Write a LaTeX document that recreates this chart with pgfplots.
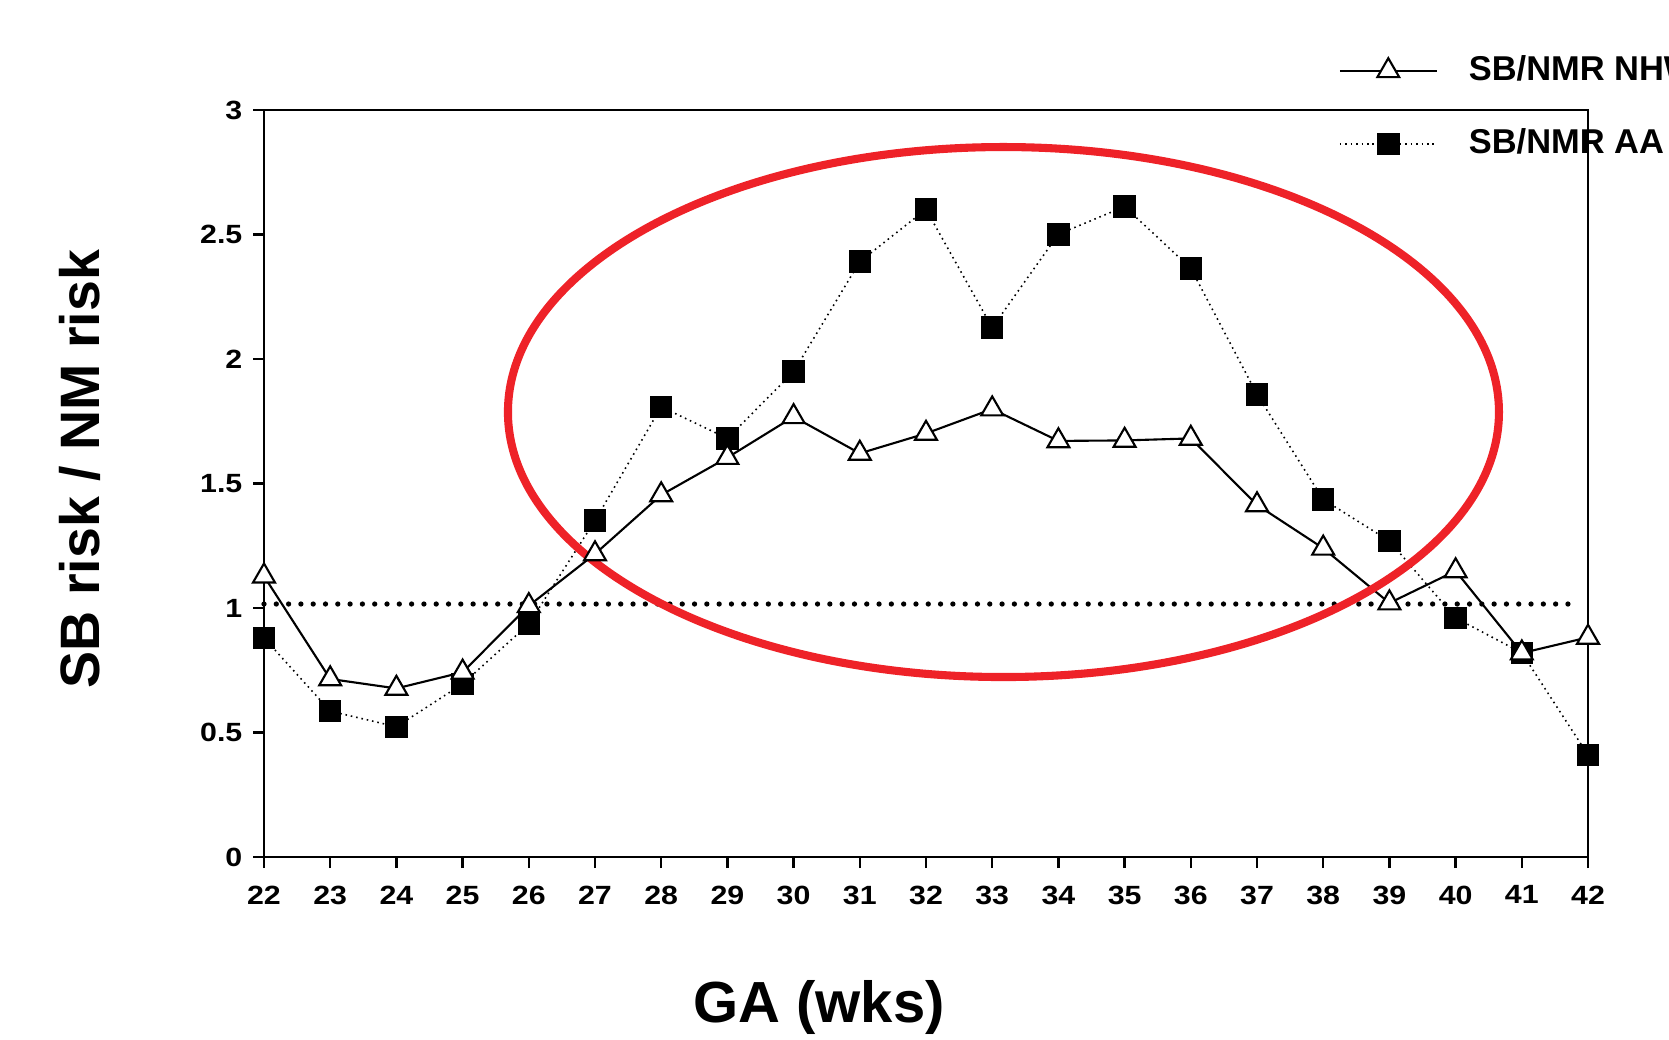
\documentclass[border=0pt]{standalone}
\usepackage{fontspec}
\setmainfont{Liberation Sans}
\newfontfamily\tickfont[FakeStretch=1.15]{Liberation Sans}
\usepackage{pgfplots}
\pgfplotsset{compat=1.18}
\usetikzlibrary{calc}
\definecolor{circred}{RGB}{238,34,40}

\begin{document}
\begin{tikzpicture}
\useasboundingbox (0,0) rectangle (16.69cm,10.39cm);
\clip (0,0) rectangle (16.69cm,10.39cm);
\begin{axis}[
  at={(2.64cm,1.82cm)}, anchor=south west,
  scale only axis, width=13.24cm, height=7.47cm,
  xmin=22, xmax=42, ymin=0, ymax=3,
  xtick={22,...,42}, ytick={0,0.5,1,1.5,2,2.5,3},
  yticklabels={0,0.5,1,1.5,2,2.5,3},
  /pgf/number format/assume math mode=true,
  tick pos=left, tick align=outside, major tick length=0.11cm,
  axis line style={line width=0.7pt},
  tick style={line width=0.7pt,black},
  ticklabel style={font=\tickfont\bfseries\fontsize{7.5}{8}\selectfont},
  xticklabel style={inner sep=0pt,anchor=north,yshift=-0.17cm},
  yticklabel style={inner sep=0pt,anchor=east,xshift=-0.1cm},
  clip=false,
  xlabel={GA (wks)}, ylabel={SB risk / NM risk},
  label style={font=\bfseries\fontsize{16.5}{18}\selectfont},
  ylabel style={font=\bfseries\fontsize{15.8}{18}\selectfont},
  xlabel style={at={($(axis description cs:0.5,0)+(-1.07cm,-1.65cm)$)},anchor=base},
  ylabel style={at={($(axis description cs:0,0.5)+(-1.64cm,0.145cm)$)},anchor=base},
  legend cell align=left,
  reverse legend,
  legend style={at={(axis description cs:0.8112,1.0736)},anchor=north west,
    draw=none,fill=none,inner sep=0pt,column sep=0.31cm,row sep=0.43cm,
    nodes={inner sep=0pt},
    font=\bfseries\fontsize{9.8}{10}\selectfont},
  legend image code/.code={\draw[mark repeat=2,mark phase=2,#1]
    plot coordinates {(0cm,0cm) (0.485cm,0cm) (0.97cm,0cm)};},
]

% reference line at 1
\addplot[black,line width=1.5pt,line cap=round,dash pattern=on 0pt off 3.5pt,forget plot]
  coordinates {(22,1.016)(41.85,1.016)};

% SB/NMR AA
\addplot[black,line width=0.45pt,dash pattern=on 0.45pt off 1.1pt,
  mark=square*,mark size=2.98pt,mark options={solid,fill=black}]
  coordinates {
  (22,0.880)(23,0.586)(24,0.523)(25,0.695)(26,0.936)(27,1.351)(28,1.808)
  (29,1.681)(30,1.949)(31,2.391)(32,2.601)(33,2.126)(34,2.501)(35,2.612)
  (36,2.364)(37,1.858)(38,1.436)(39,1.269)(40,0.960)(41,0.820)(42,0.410)};

% SB/NMR NHW
\addplot[black,line width=0.6pt,
  mark=triangle*,mark size=3.6pt,mark options={solid,fill=white,line width=0.6pt}]
  coordinates {
  (22,1.128)(23,0.715)(24,0.677)(25,0.742)(26,1.009)(27,1.217)(28,1.454)
  (29,1.604)(30,1.768)(31,1.621)(32,1.701)(33,1.799)(34,1.671)(35,1.673)
  (36,1.681)(37,1.414)(38,1.240)(39,1.020)(40,1.149)(41,0.819)(42,0.882)};

\legend{SB/NMR AA,SB/NMR NHW}

\draw[circred,line width=2.3pt] (axis cs:33.17,1.787) ellipse [x radius=4.955cm,y radius=2.65cm];
\end{axis}
\end{tikzpicture}
\end{document}
